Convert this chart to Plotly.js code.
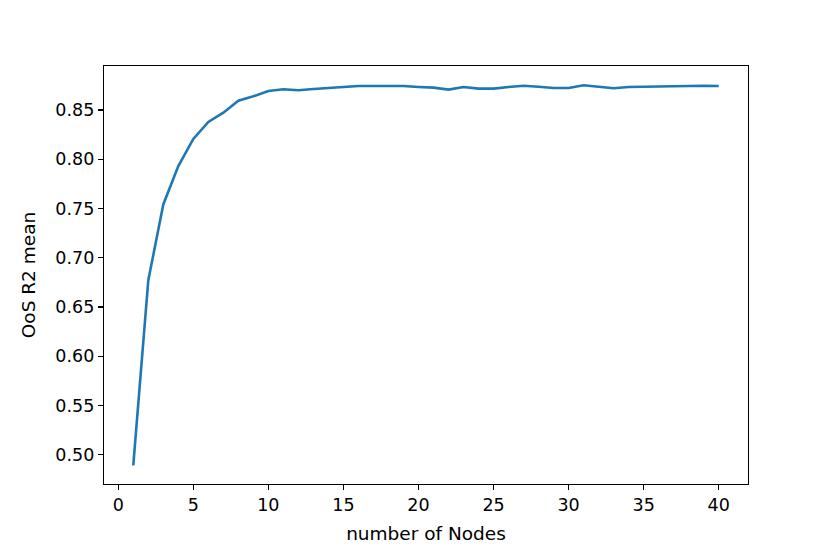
<!DOCTYPE html>
<html>
<head>
<meta charset="utf-8">
<script src="https://cdn.plot.ly/plotly-3.0.1.min.js"></script>
<style>html,body{margin:0;padding:0;background:#fff;}#chart{width:830px;height:554px;}</style>
</head>
<body>
<div id="chart"></div>
<script>
const nodes = [1,2,3,4,5,6,7,8,9,10,11,12,13,14,15,16,17,18,19,20,21,22,23,24,25,26,27,28,29,30,31,32,33,34,35,36,37,38,39,40];
const r2Mean = [0.489,0.677,0.754,0.793,0.8206,0.8378,0.8472,0.8594,0.8639,0.8693,0.871,0.870,0.8713,0.8723,0.8726,0.8743,0.8743,0.8743,0.8743,0.8733,0.8726,0.8706,0.8733,0.8716,0.8716,0.8733,0.8746,0.8736,0.8723,0.8723,0.875,0.8736,0.872,0.8733,0.8736,0.8736,0.8736,0.874,0.8746,0.8743];
const xTicks = [0,5,10,15,20,25,30,35,40];
const yTicks = [0.50,0.55,0.60,0.65,0.70,0.75,0.80,0.85];

const tickFont = {family: 'DejaVu Sans', size: 17.5, color: '#000'};
const titleFont = {family: 'DejaVu Sans', size: 18.5, color: '#000'};
const trace = {
  x: nodes, y: r2Mean, type: 'scatter', mode: 'lines',
  line: {color: '#1f77b4', width: 2.6}
};
const axisBase = {
  showgrid: false, zeroline: false, showline: true, linecolor: '#000', linewidth: 1.2,
  mirror: true, ticks: 'outside', ticklen: 5, tickwidth: 1.2, tickcolor: '#000',
  tickfont: tickFont
};
const layout = {
  width: 830, height: 554,
  margin: {l: 104, r: 82, t: 66, b: 70},
  paper_bgcolor: '#fff', plot_bgcolor: '#fff',
  showlegend: false,
  font: tickFont,
  xaxis: Object.assign({}, axisBase, {
    range: [-0.95, 41.95], tickmode: 'array', tickvals: xTicks,
    ticktext: xTicks.map(String),
    title: {text: 'number of Nodes', font: titleFont, standoff: 12}
  }),
  yaxis: Object.assign({}, axisBase, {
    range: [0.4702, 0.8946], tickmode: 'array', tickvals: yTicks,
    ticktext: yTicks.map(v => v.toFixed(2)),
    title: {text: 'OoS R2 mean', font: titleFont, standoff: 14}
  })
};
Plotly.newPlot('chart', [trace], layout, {displayModeBar: false, staticPlot: true});
</script>
</body>
</html>
